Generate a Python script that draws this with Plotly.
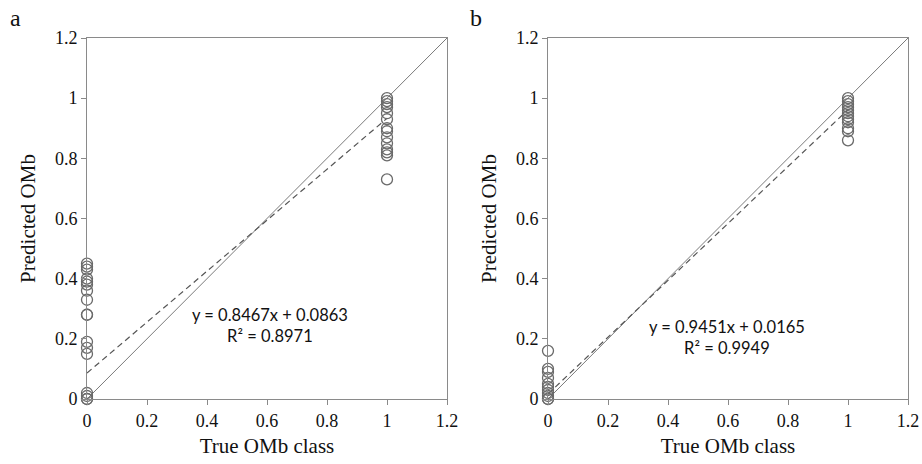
import plotly.graph_objects as go

# ---- data ----
a_x0_y = [0.45, 0.44, 0.43, 0.40, 0.39, 0.38, 0.36, 0.33, 0.28, 0.28, 0.19, 0.17, 0.15, 0.02, 0.01, 0.0, 0.0]
a_x1_y = [1.00, 0.99, 0.98, 0.97, 0.95, 0.93, 0.90, 0.89, 0.87, 0.85, 0.83, 0.82, 0.81, 0.73]
b_x0_y = [0.16, 0.10, 0.09, 0.07, 0.05, 0.04, 0.03, 0.02, 0.01, 0.0, 0.0]
b_x1_y = [1.00, 0.99, 0.98, 0.97, 0.96, 0.95, 0.94, 0.93, 0.92, 0.90, 0.89, 0.86]
trend_x = [0, 1]
a_trend_y = [0.0863, 0.9330]
b_trend_y = [0.0165, 0.9616]
ident = [0, 1.2]
tick_vals = [0, 0.2, 0.4, 0.6, 0.8, 1, 1.2]
tick_text = ["0", "0.2", "0.4", "0.6", "0.8", "1", "1.2"]
a_eq = "y = 0.8467x + 0.0863<br>R² = 0.8971"
b_eq = "y = 0.9451x + 0.0165<br>R² = 0.9949"

fig = go.Figure()
marker = dict(symbol="circle-open", size=11, color="#6a6a6a", line=dict(width=1.3))

panels = [
    ("x", "y", a_x0_y, a_x1_y, a_trend_y),
    ("x2", "y2", b_x0_y, b_x1_y, b_trend_y),
]
for xa, ya, y0, y1, ty in panels:
    fig.add_trace(go.Scatter(x=ident, y=ident, mode="lines", line=dict(color="#7a7a7a", width=1),
                             xaxis=xa, yaxis=ya, showlegend=False, hoverinfo="skip"))
    fig.add_trace(go.Scatter(x=trend_x, y=ty, mode="lines", line=dict(color="#555555", width=1.2, dash="6px,4px"),
                             xaxis=xa, yaxis=ya, showlegend=False, hoverinfo="skip"))
    fig.add_trace(go.Scatter(x=[0] * len(y0) + [1] * len(y1), y=y0 + y1, mode="markers", marker=marker,
                             xaxis=xa, yaxis=ya, showlegend=False, cliponaxis=False))

W, H = 922, 464
ydom = [1 - 399 / H, 1 - 38 / H]
axis_common = dict(range=[0, 1.2], tickvals=tick_vals, ticktext=tick_text, showgrid=False, zeroline=False,
                   showline=True, linecolor="#8a8a8a", linewidth=1, mirror=True, ticks="outside",
                   ticklen=5, tickcolor="#8a8a8a", automargin=False,
                   tickfont=dict(family="Liberation Serif", size=18, color="#111"))
title_font = dict(family="Liberation Serif", size=21, color="#111")

fig.update_layout(
    width=W, height=H, margin=dict(l=0, r=0, t=0, b=0),
    paper_bgcolor="white", plot_bgcolor="white",
    xaxis=dict(domain=[87 / W, 447 / W], anchor="y", title=dict(text="True OMb class", font=title_font, standoff=8), **axis_common),
    yaxis=dict(domain=ydom, anchor="x", title=dict(text="Predicted OMb", font=title_font, standoff=13), **axis_common),
    xaxis2=dict(domain=[548 / W, 908 / W], anchor="y2", title=dict(text="True OMb class", font=title_font, standoff=8), **axis_common),
    yaxis2=dict(domain=ydom, anchor="x2", title=dict(text="Predicted OMb", font=title_font, standoff=13), **axis_common),
)

eq_font = dict(family="Lato", size=16.5, color="#111")
fig.add_annotation(x=0.61, y=0.245, xref="x", yref="y", text=a_eq, showarrow=False, font=eq_font, align="center")
fig.add_annotation(x=0.597, y=0.206, xref="x2", yref="y2", text=b_eq, showarrow=False, font=eq_font, align="center")
fig.add_annotation(x=8 / W, y=1 - 18 / H, xref="paper", yref="paper", text="a", showarrow=False,
                   font=dict(family="Liberation Serif", size=24, color="#111"), xanchor="left", yanchor="middle")
fig.add_annotation(x=468 / W, y=1 - 18 / H, xref="paper", yref="paper", text="b", showarrow=False,
                   font=dict(family="Liberation Serif", size=24, color="#111"), xanchor="left", yanchor="middle")

fig.write_html("out.html", config={"displayModeBar": False},
               post_script="document.body.style.margin='0';document.body.style.overflow='hidden';")
